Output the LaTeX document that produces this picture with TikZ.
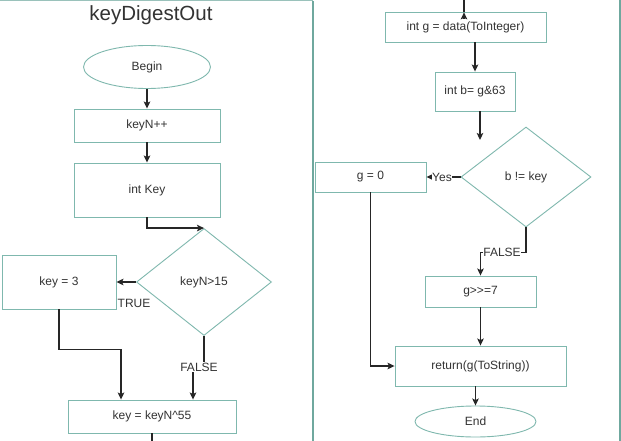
\documentclass[tikz,border=0pt]{standalone}
\usepackage{fontspec}
\setmainfont{Liberation Sans}
\usetikzlibrary{shapes.geometric,arrows.meta}
\definecolor{teal1}{HTML}{7FB8AE}
\definecolor{frame1}{HTML}{6FA89E}
\definecolor{txt}{HTML}{333333}
\definecolor{ln}{HTML}{262626}
\tikzset{
  box/.style={draw=teal1,line width=0.9pt,rectangle,inner sep=0pt,text=txt,font=\fontsize{12}{14}\selectfont},
  oval/.style={draw=teal1,line width=0.9pt,ellipse,inner sep=0pt,text=txt,font=\fontsize{12}{14}\selectfont},
  dia/.style={draw=teal1,line width=0.9pt,diamond,inner sep=0pt,text=txt,font=\fontsize{12}{14}\selectfont},
  conn/.style={draw=ln,line width=1.3pt},
  arr/.style={conn,-{Stealth[length=7pt,width=6.5pt,inset=1.5pt]}},
  lbl/.style={fill=white,inner sep=0.5pt,text=txt,font=\fontsize{12}{14}\selectfont},
}
\begin{document}
\begin{tikzpicture}[x=1pt,y=-1pt]
\useasboundingbox (0,0) rectangle (621,441);
\fill[white] (0,0) rectangle (621,441);
% frames
\draw[frame1!70,line width=1pt] (0,1) -- (313,1);
\draw[frame1,line width=1.2pt] (313,1) -- (313,441);
\draw[frame1,line width=1.2pt] (620,0) -- (620,441);
% title
\node[text=txt,font=\fontsize{20.5}{24}\selectfont] (title) at (151,15) {keyDigestOut};
% left flow
\node[oval,minimum width=127pt,minimum height=43pt] (begin) at (147,67) {Begin};
\node[box,minimum width=146pt,minimum height=33pt] (keyN) at (147,125.5) {keyN++};
\node[box,minimum width=146pt,minimum height=54pt] (intkey) at (147,190) {int Key};
\node[dia,minimum width=135pt,minimum height=107pt] (d1) at (204,282) {keyN>15};
\node[box,minimum width=114pt,minimum height=54pt] (key3) at (59,282) {key = 3};
\node[box,minimum width=168pt,minimum height=33pt] (k55) at (152,416.5) {key = keyN\textasciicircum 55};
\coordinate (lbot) at (152,441);
\draw[arr] (begin.south) -- (keyN.north);
\draw[arr] (keyN.south) -- (intkey.north);
\draw[arr] (intkey.south) |- (d1.north);
\draw[arr] (d1.west) -- (key3.east);
\node[lbl,anchor=west] (truel) at (117,303) {TRUE};
\draw[arr] (key3.south) -- ++(0,40) -| ([xshift=-31pt]k55.north);
\draw[arr] (d1.south) -- ++(0,31.5) -| ([xshift=41pt]k55.north);
\node[lbl] (falsel) at (199,367) {FALSE};
\draw[conn] (k55.south) -- (lbot);
% right flow
\node[box,minimum width=161pt,minimum height=30pt] (g) at (465.5,27) {int g = data(ToInteger)};
\node[box,minimum width=80pt,minimum height=39pt] (b) at (475,91.5) {int b= g\&63};
\node[dia,minimum width=130pt,minimum height=100pt] (d2) at (526,177) {b != key};
\node[box,minimum width=111pt,minimum height=30pt] (g0) at (370.5,177) {g = 0};
\node[box,minimum width=111pt,minimum height=31pt] (g7) at (480.5,291.5) {g>{}>=7};
\node[box,minimum width=171pt,minimum height=40pt] (ret) at (480.5,366) {return(g(ToString))};
\node[oval,minimum width=121pt,minimum height=31pt] (end) at (475.5,421.5) {End};
\coordinate (rtop) at (464,0);
\coordinate (bfree) at (480,140);
\draw[conn] (rtop) -- (rtop |- g.north);
\draw[arr] ([yshift=-7.5pt]rtop |- g.north) -- ([yshift=-0.8pt]rtop |- g.north);
\draw[arr] (g.south -| b.north) -- (b.north);
\draw[arr] ([xshift=5pt]b.south) -- (bfree);
\draw[arr] (d2.west) -- (g0.east);
\node[lbl] (yesl) at (442,177) {Yes};
\draw[arr] (g0.south) |- (ret.west);
\draw[arr] (d2.south) -- ++(0,25) -| (g7.north);
\node[lbl] (false2) at (502,252) {FALSE};
\draw[arr] (g7.south) -- (ret.north);
\draw[arr] (end.north |- ret.south) -- (end.north);
\end{tikzpicture}
\end{document}
